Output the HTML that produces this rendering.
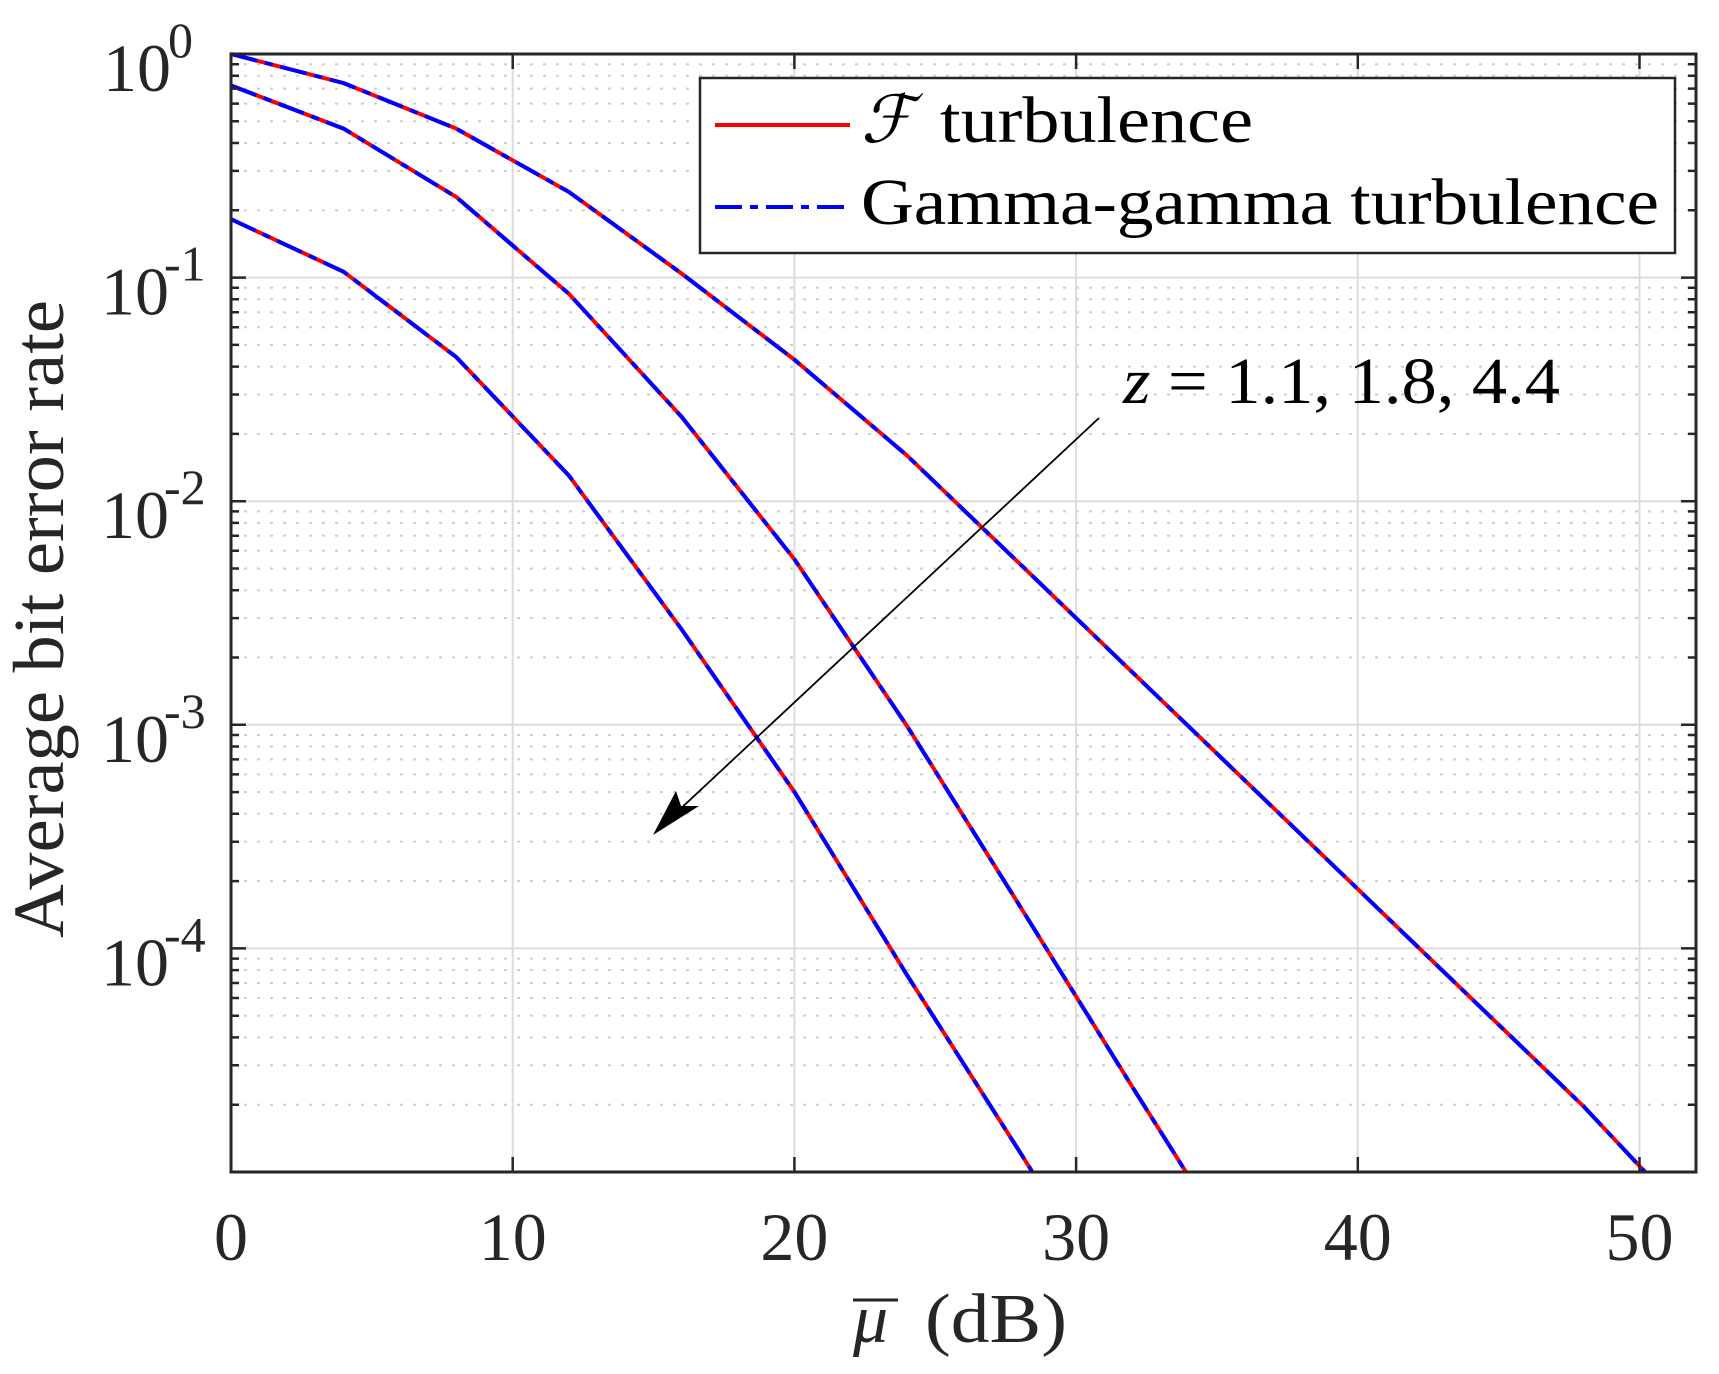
<!DOCTYPE html>
<html><head><meta charset="utf-8"><style>
html,body{margin:0;padding:0;background:#fff;}
svg{display:block;}
text{font-family:"Liberation Serif","DejaVu Serif",serif;fill:#262626;}
</style></head><body>
<svg width="1719" height="1374" viewBox="0 0 1719 1374" xmlns="http://www.w3.org/2000/svg">
<defs>
<path id="mg" d="M231 210.3H1696M231 170.9H1696M231 143H1696M231 121.3H1696M231 103.6H1696M231 88.6H1696M231 75.7H1696M231 64.2H1696" stroke="#cdcdcd" stroke-width="2" stroke-dasharray="3 10" fill="none"/>
<path id="mt" d="M231 210.3h8M231 170.9h8M231 143h8M231 121.3h8M231 103.6h8M231 88.6h8M231 75.7h8M231 64.2h8M1696 210.3h-8M1696 170.9h-8M1696 143h-8M1696 121.3h-8M1696 103.6h-8M1696 88.6h-8M1696 75.7h-8M1696 64.2h-8" stroke="#262626" stroke-width="2.5" fill="none"/>
</defs>
<rect width="1719" height="1374" fill="#fff"/>
<use href="#mg"/>
<use href="#mg" transform="translate(0,223.6)"/>
<use href="#mg" transform="translate(0,447.2)"/>
<use href="#mg" transform="translate(0,670.8)"/>
<use href="#mg" transform="translate(0,894.4)"/>
<path d="M231 277.6H1696M231 501.2H1696M231 724.8H1696M231 948.4H1696M512.7 54V1172M794.4 54V1172M1076.1 54V1172M1357.8 54V1172M1639.5 54V1172" stroke="#dcdcdc" stroke-width="2" fill="none"/>

<g fill="none" stroke-width="4">
<path id="cA" d="M231 54L343.7 83.1L456.4 128.7L569 192L681.7 273.6L794.4 359.7L907.1 455.6L1019.8 563.8L1132.4 672.3L1245.1 780.7L1357.8 889.1L1470.5 997.6L1583.2 1106L1645.1 1172" stroke="#ff0000"/>
<path id="cB" d="M231 85.5L343.7 128.7L456.4 197.1L569 293.9L681.7 416.9L794.4 559.3L907.1 726.1L1019.8 905.9L1132.4 1087L1186 1172" stroke="#ff0000"/>
<path id="cC" d="M231 219.2L343.7 271.8L456.4 357.2L569 475.7L681.7 629.5L794.4 791.9L907.1 975.2L1019.8 1151.9L1032.4 1172" stroke="#ff0000"/>
<g stroke="#0000ff" stroke-dasharray="27 8 8 8">
<path d="M231 54L343.7 83.1L456.4 128.7L569 192L681.7 273.6L794.4 359.7L907.1 455.6L1019.8 563.8L1132.4 672.3L1245.1 780.7L1357.8 889.1L1470.5 997.6L1583.2 1106L1645.1 1172"/>
<path d="M231 85.5L343.7 128.7L456.4 197.1L569 293.9L681.7 416.9L794.4 559.3L907.1 726.1L1019.8 905.9L1132.4 1087L1186 1172"/>
<path d="M231 219.2L343.7 271.8L456.4 357.2L569 475.7L681.7 629.5L794.4 791.9L907.1 975.2L1019.8 1151.9L1032.4 1172"/>
</g>
</g>

<use href="#mt"/>
<use href="#mt" transform="translate(0,223.6)"/>
<use href="#mt" transform="translate(0,447.2)"/>
<use href="#mt" transform="translate(0,670.8)"/>
<use href="#mt" transform="translate(0,894.4)"/>
<path d="M231 277.6h15M231 501.2h15M231 724.8h15M231 948.4h15M1696 277.6h-15M1696 501.2h-15M1696 724.8h-15M1696 948.4h-15M512.7 1172v-15M794.4 1172v-15M1076.1 1172v-15M1357.8 1172v-15M1639.5 1172v-15M512.7 54v15M794.4 54v15M1076.1 54v15M1357.8 54v15M1639.5 54v15" stroke="#262626" stroke-width="2.5" fill="none"/>
<rect x="231" y="54" width="1465" height="1118" fill="none" stroke="#262626" stroke-width="3"/>

<g font-size="68" text-anchor="middle">
<text x="231" y="1260">0</text>
<text x="512.7" y="1260">10</text>
<text x="794.4" y="1260">20</text>
<text x="1076.1" y="1260">30</text>
<text x="1357.8" y="1260">40</text>
<text x="1639.5" y="1260">50</text>
</g>
<g font-size="68">
<text x="103" y="91">10</text>
<text x="101" y="314.6">10</text>
<text x="101" y="538.2">10</text>
<text x="101" y="761.8">10</text>
<text x="101" y="985.4">10</text>
</g>
<g font-size="50">
<text x="168" y="57">0</text>
<text x="164" y="280.6">-1</text>
<text x="164" y="504.2">-2</text>
<text x="164" y="727.8">-3</text>
<text x="164" y="951.4">-4</text>
</g>

<rect x="700" y="78" width="975" height="175" fill="#fff" stroke="#262626" stroke-width="2.5"/>
<line x1="715" y1="125" x2="850" y2="125" stroke="#ff0000" stroke-width="4"/>
<line x1="715" y1="207" x2="850" y2="207" stroke="#0000ff" stroke-width="4" stroke-dasharray="27 8 8 8"/>
<text x="861" y="142" font-size="66" font-style="italic" style="fill:#000">ℱ</text>
<text x="940" y="142" font-size="66" textLength="313" lengthAdjust="spacingAndGlyphs" style="fill:#000">turbulence</text>
<text x="861" y="224" font-size="66" textLength="798" lengthAdjust="spacingAndGlyphs" style="fill:#000">Gamma-gamma turbulence</text>

<line x1="1099" y1="418" x2="662" y2="826" stroke="#000" stroke-width="1.8"/>
<polygon points="653,835 699,806 681,806 676,791" fill="#000"/>
<text x="1123" y="403" font-size="66" textLength="437" lengthAdjust="spacingAndGlyphs" style="fill:#000"><tspan font-style="italic">z</tspan> = 1.1, 1.8, 4.4</text>

<line x1="853" y1="1300" x2="898" y2="1300" stroke="#262626" stroke-width="3"/>
<text x="853" y="1342" font-size="70" font-style="italic">μ</text>
<text x="925" y="1342" font-size="70" textLength="142" lengthAdjust="spacingAndGlyphs">(dB)</text>
<text transform="translate(63,619) rotate(-90)" x="0" y="0" font-size="72" text-anchor="middle" textLength="638" lengthAdjust="spacingAndGlyphs">Average bit error rate</text>
</svg>
</body></html>
